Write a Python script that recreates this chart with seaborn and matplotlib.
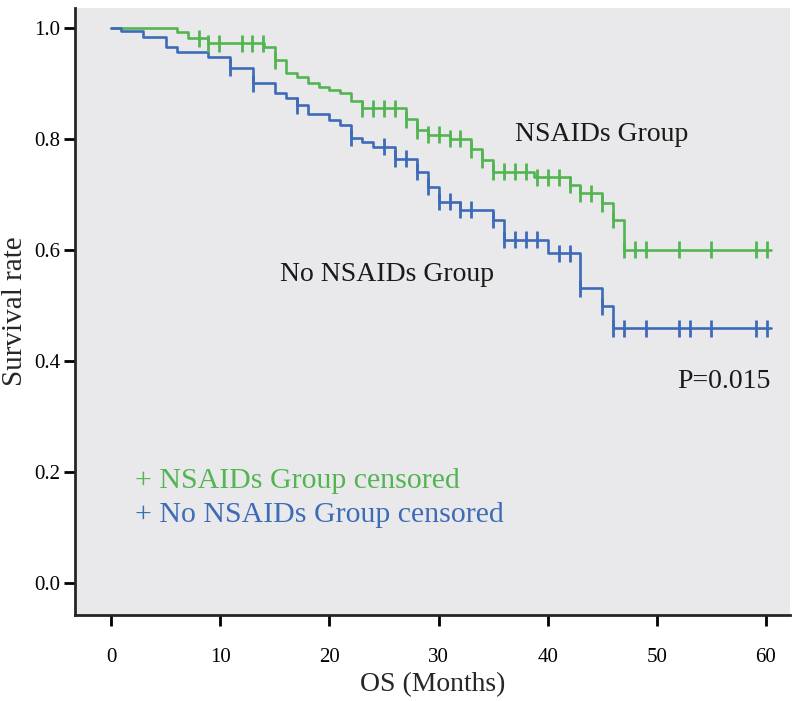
import numpy as np
import pandas as pd
import matplotlib
matplotlib.use("Agg")
import matplotlib.pyplot as plt
import seaborn as sns

# Kaplan-Meier steps: event month and survival after it
nsaid_t = [0, 6.0, 7.0, 8.9, 14.0, 15.0, 16.0, 17.0, 18.0, 19.0, 20.0, 21.0, 22.0, 23.0,
           27.0, 28.0, 29.0, 31.0, 33.0, 34.0, 35.0, 38.7, 42.0, 43.0, 45.0, 46.0, 47.0]
nsaid_s = [1.0, 0.992, 0.981, 0.972, 0.965, 0.942, 0.918, 0.911, 0.900, 0.893, 0.888, 0.883, 0.869, 0.855,
           0.835, 0.816, 0.807, 0.800, 0.781, 0.762, 0.741, 0.731, 0.717, 0.702, 0.684, 0.654, 0.600]
nsaid_cens = [8.0, 8.9, 9.9, 12.0, 12.9, 13.9, 15.0, 23.0, 24.0, 25.0, 26.0, 27.0, 28.0, 29.0,
              30.0, 31.0, 32.0, 33.0, 34.0, 35.0, 36.0, 37.0, 38.0, 39.0, 40.0, 41.0, 42.0,
              43.0, 44.0, 45.0, 46.0, 47.0, 48.0, 49.0, 52.0, 55.0, 59.1, 60.1]

nonsaid_t = [0, 0.9, 2.9, 5.0, 6.0, 8.9, 10.9, 13.0, 15.0, 16.0, 17.0, 18.0, 20.0, 21.0, 22.0,
             23.0, 24.0, 26.0, 28.0, 29.0, 30.0, 32.0, 35.0, 36.0, 40.0, 43.0, 45.0, 46.0]
nonsaid_s = [1.0, 0.994, 0.984, 0.965, 0.956, 0.947, 0.928, 0.900, 0.883, 0.873, 0.861, 0.844, 0.834, 0.825, 0.802,
             0.795, 0.786, 0.764, 0.741, 0.714, 0.687, 0.672, 0.654, 0.618, 0.594, 0.531, 0.498, 0.459]
nonsaid_cens = [10.9, 13.0, 17.0, 22.0, 25.0, 26.0, 27.0, 28.0, 29.0, 30.0, 31.0, 32.0, 33.0,
                35.0, 36.0, 37.0, 38.0, 39.0, 41.0, 42.0, 43.0, 45.0, 46.0, 47.0, 49.0, 52.0,
                53.0, 55.0, 59.1, 60.1]
end_month = 60.5

groups = ["NSAIDs Group", "No NSAIDs Group"]
colors = {"NSAIDs Group": "#52b552", "No NSAIDs Group": "#3d6bb8"}

def step_frame(name, t, s, cens):
    t = list(t) + [end_month]
    s = list(s) + [s[-1]]
    curve = pd.DataFrame({"time": t, "surv": s, "group": name})
    idx = np.searchsorted(np.array(t), np.array(cens), side="right") - 1
    marks = pd.DataFrame({"time": cens, "surv": np.array(s)[idx], "group": name})
    return curve, marks

c1, m1 = step_frame(groups[0], nsaid_t, nsaid_s, nsaid_cens)
c2, m2 = step_frame(groups[1], nonsaid_t, nonsaid_s, nonsaid_cens)
curves = pd.concat([c1, c2], ignore_index=True)
marks = pd.concat([m1, m2], ignore_index=True)

sns.set_style("ticks")
plt.rcParams['font.family'] = ['Liberation Serif', 'DejaVu Serif']

fig = plt.figure(figsize=(8, 7.01), dpi=100)
ax = fig.add_axes([0.094, 0.1227, 0.8935, 0.866])
ax.set_facecolor("#e9e9eb")

sns.lineplot(data=curves, x="time", y="surv", hue="group", palette=colors,
             drawstyle="steps-post", estimator=None, sort=False, linewidth=1.9,
             legend=False, ax=ax)
sns.scatterplot(data=marks, x="time", y="surv", hue="group", palette=colors,
                marker="|", s=150, linewidth=2, legend=False, ax=ax, zorder=3)

ax.set_xlim(-3.3, 62.2)
ax.set_ylim(-0.058, 1.036)
ax.set_xticks([0, 10, 20, 30, 40, 50, 60])
ax.set_yticks([0.0, 0.2, 0.4, 0.6, 0.8, 1.0])
ax.set_yticklabels(["0.0", "0.2", "0.4", "0.6", "0.8", "1.0"])
ax.tick_params(axis="both", direction="out", length=8, width=2, labelsize=15,
               colors="black", pad=3)
ax.tick_params(axis="x", pad=16)
for side in ["left", "bottom"]:
    ax.spines[side].set_linewidth(2)
for side in ["top", "right"]:
    ax.spines[side].set_visible(False)

ax.set_xlabel("OS (Months)", fontsize=20, va="center")
ax.xaxis.set_label_coords(0.5, -0.114)
ax.set_ylabel("Survival rate", fontsize=21, labelpad=4)

txt = dict(fontsize=20, va="center", ha="left", color="#1a1a1a")
ax.text(37.0, 0.807, "NSAIDs Group", **txt)
ax.text(15.5, 0.555, "No NSAIDs Group", **txt)
ax.text(51.9, 0.363, "P=0.015", **txt)
ax.text(2.2, 0.183, "+ NSAIDs Group censored", fontsize=21.5, va="center", ha="left",
        color=colors["NSAIDs Group"])
ax.text(2.2, 0.122, "+ No NSAIDs Group censored", fontsize=21.5, va="center", ha="left",
        color=colors["No NSAIDs Group"])

fig.savefig("out.png", dpi=100)
